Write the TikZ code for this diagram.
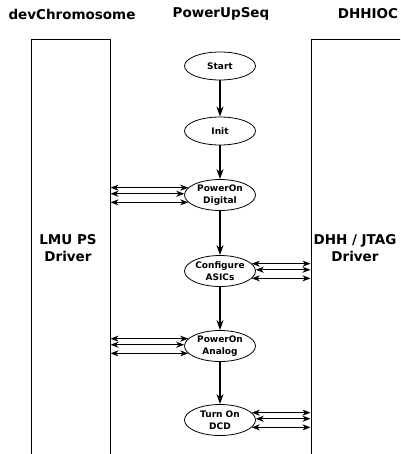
\documentclass[tikz,border=0pt]{standalone}
\usepackage{fontspec}
\setmainfont{DejaVu Sans}
\usetikzlibrary{shapes.geometric,arrows.meta}
\begin{document}
\begin{tikzpicture}[x=1pt,y=-1pt,
  hdr/.style={font=\fontsize{13.5}{16}\selectfont\bfseries},
  boxtxt/.style={font=\fontsize{13.5}{16.5}\selectfont\bfseries,align=center},
  lane/.style={draw=black,line width=1pt,rectangle,inner sep=0pt},
  stepell/.style={draw=black,line width=0.8pt,ellipse,inner sep=0pt,minimum width=71pt,minimum height=31pt,
    font=\fontsize{9}{11.5}\selectfont\bfseries,align=center},
  smallell/.style={stepell,minimum height=28pt},
  flow/.style={line width=1.4pt,-{Stealth[length=10pt,width=7pt,inset=3pt]}},
  hconn/.style={line width=0.9pt,{Stealth[length=8pt,width=6pt,inset=2.5pt]}-{Stealth[length=8pt,width=6pt,inset=2.5pt]}}
]
\useasboundingbox (0,0) rectangle (400,454);
\clip (0,0) rectangle (400,454);
\fill[white] (0,0) rectangle (400,454);
% headers
\node[hdr] (hdev) at (72,14) {devChromosome};
\node[hdr] (hpus) at (221,14) {PowerUpSeq};
\node[hdr] (hdhh) at (368,14) {DHHIOC};
% lanes
\node[lane,minimum width=79pt,minimum height=430pt] (lmu) at (70.5,255) {};
\node[lane,minimum width=92pt,minimum height=430pt] (dhh) at (357,255) {};
\node[boxtxt] (lmut) at (68,248) {LMU PS\\Driver};
\node[boxtxt] (dhht) at (355,248) {DHH / JTAG\\Driver};
% steps
\node[smallell] (start) at (220,66) {Start};
\node[smallell] (init) at (220,131) {Init};
\node[stepell] (pod) at (220,195) {PowerOn\\Digital};
\node[stepell] (cfg) at (220,271) {Configure\\ASICs};
\node[stepell] (poa) at (220,346) {PowerOn\\Analog};
\node[stepell] (dcd) at (220,420) {Turn On\\DCD};
% flow
\draw[flow] (start) -- (init);
\draw[flow] (init) -- (pod);
\draw[flow] (pod) -- (cfg);
\draw[flow] (cfg) -- (poa);
\draw[flow] (poa) -- (dcd);
% connectors to LMU
\foreach \a in {167,178,193}{
  \draw[hconn] (lmu.east |- pod.\a) -- (pod.\a);
  \draw[hconn] (lmu.east |- poa.\a) -- (poa.\a);
}
% connectors to DHH
\foreach \a in {13,2,-13}{
  \draw[hconn] (cfg.\a) -- (dhh.west |- cfg.\a);
  \draw[hconn] (dcd.\a) -- (dhh.west |- dcd.\a);
}
\end{tikzpicture}
\end{document}
